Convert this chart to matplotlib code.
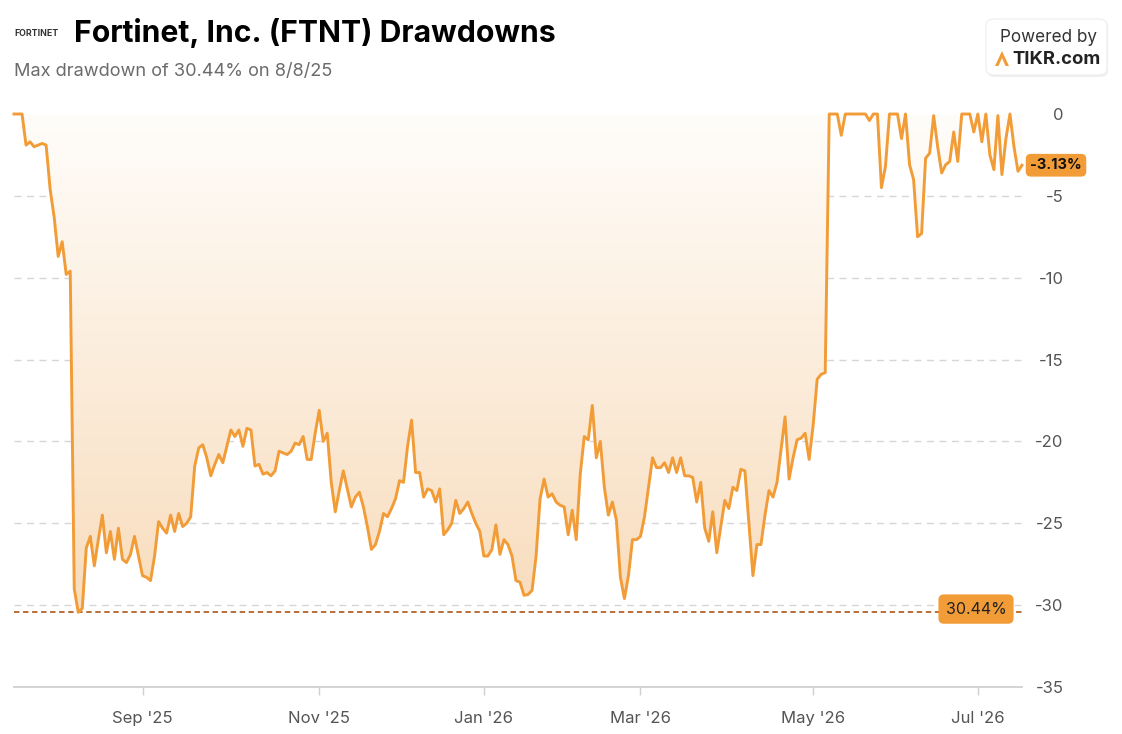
import matplotlib
matplotlib.use("Agg")
import matplotlib.pyplot as plt
import numpy as np
import pandas as pd
from matplotlib.patches import FancyBboxPatch, Polygon
from matplotlib.colors import LinearSegmentedColormap

plt.rcParams['font.family'] = ['Inter', 'DejaVu Sans']

# ---------------- data ----------------
title = "Fortinet, Inc. (FTNT) Drawdowns"
subtitle = "Max drawdown of 30.44% on 8/8/25"
max_dd = -30.44
last_dd = -3.13

market_holidays = ["2025-09-01", "2025-11-27", "2025-12-25", "2026-01-01", "2026-01-19",
                   "2026-02-16", "2026-04-03", "2026-05-25", "2026-06-19", "2026-07-03"]

dates = [
    "2025-07-17", "2025-07-21", "2025-07-22", "2025-07-23", "2025-07-24", "2025-07-25", "2025-07-28",
    "2025-07-29", "2025-07-30", "2025-07-31",
    "2025-08-01", "2025-08-04", "2025-08-05", "2025-08-06", "2025-08-07", "2025-08-08", "2025-08-11",
    "2025-08-12", "2025-08-13", "2025-08-14", "2025-08-15", "2025-08-18", "2025-08-19", "2025-08-20",
    "2025-08-21", "2025-08-22", "2025-08-25", "2025-08-26", "2025-08-27", "2025-08-28", "2025-08-29",
    "2025-09-02", "2025-09-03", "2025-09-04", "2025-09-05", "2025-09-08", "2025-09-09", "2025-09-10",
    "2025-09-11", "2025-09-12", "2025-09-15", "2025-09-16", "2025-09-17", "2025-09-18", "2025-09-19",
    "2025-09-22", "2025-09-23", "2025-09-24", "2025-09-25", "2025-09-26", "2025-09-29", "2025-09-30",
    "2025-10-01", "2025-10-02", "2025-10-03", "2025-10-06", "2025-10-07", "2025-10-08", "2025-10-09",
    "2025-10-10", "2025-10-13", "2025-10-14", "2025-10-15", "2025-10-16", "2025-10-17", "2025-10-20",
    "2025-10-21", "2025-10-22", "2025-10-23", "2025-10-24", "2025-10-27", "2025-10-28", "2025-10-29",
    "2025-10-30", "2025-10-31",
    "2025-11-03", "2025-11-04", "2025-11-05", "2025-11-06", "2025-11-07", "2025-11-10", "2025-11-11",
    "2025-11-12", "2025-11-13", "2025-11-14", "2025-11-17", "2025-11-18", "2025-11-19", "2025-11-20",
    "2025-11-21", "2025-11-24", "2025-11-25", "2025-11-26", "2025-11-28",
    "2025-12-01", "2025-12-02", "2025-12-03", "2025-12-04", "2025-12-05", "2025-12-08", "2025-12-09",
    "2025-12-10", "2025-12-11", "2025-12-12", "2025-12-15", "2025-12-16", "2025-12-17", "2025-12-18",
    "2025-12-19", "2025-12-22", "2025-12-23", "2025-12-24", "2025-12-26", "2025-12-29", "2025-12-30",
    "2025-12-31",
    "2026-01-02", "2026-01-05", "2026-01-06", "2026-01-07", "2026-01-08", "2026-01-09", "2026-01-12",
    "2026-01-13", "2026-01-14", "2026-01-15", "2026-01-16", "2026-01-20", "2026-01-21", "2026-01-22",
    "2026-01-23", "2026-01-26", "2026-01-27", "2026-01-28", "2026-01-29", "2026-01-30",
    "2026-02-02", "2026-02-03", "2026-02-04", "2026-02-05", "2026-02-06", "2026-02-09", "2026-02-10",
    "2026-02-11", "2026-02-12", "2026-02-13", "2026-02-17", "2026-02-18", "2026-02-19", "2026-02-20",
    "2026-02-23", "2026-02-24", "2026-02-25", "2026-02-26", "2026-02-27",
    "2026-03-02", "2026-03-03", "2026-03-04", "2026-03-05", "2026-03-06", "2026-03-09", "2026-03-10",
    "2026-03-11", "2026-03-12", "2026-03-13", "2026-03-16", "2026-03-17", "2026-03-18", "2026-03-19",
    "2026-03-20", "2026-03-23", "2026-03-24", "2026-03-25", "2026-03-26", "2026-03-27", "2026-03-30",
    "2026-03-31",
    "2026-04-01", "2026-04-02", "2026-04-06", "2026-04-07", "2026-04-08", "2026-04-09", "2026-04-10",
    "2026-04-13", "2026-04-14", "2026-04-15", "2026-04-16", "2026-04-17", "2026-04-20", "2026-04-21",
    "2026-04-22", "2026-04-23", "2026-04-24", "2026-04-27", "2026-04-28", "2026-04-29", "2026-04-30",
    "2026-05-01", "2026-05-04", "2026-05-05", "2026-05-06", "2026-05-07", "2026-05-08", "2026-05-11",
    "2026-05-12", "2026-05-13", "2026-05-14", "2026-05-15", "2026-05-18", "2026-05-19", "2026-05-20",
    "2026-05-21", "2026-05-22", "2026-05-26", "2026-05-27", "2026-05-28", "2026-05-29",
    "2026-06-01", "2026-06-02", "2026-06-03", "2026-06-04", "2026-06-05", "2026-06-08", "2026-06-09",
    "2026-06-10", "2026-06-11", "2026-06-12", "2026-06-15", "2026-06-16", "2026-06-17", "2026-06-18",
    "2026-06-22", "2026-06-23", "2026-06-24", "2026-06-25", "2026-06-26", "2026-06-29", "2026-06-30",
    "2026-07-01", "2026-07-02", "2026-07-06", "2026-07-07", "2026-07-08", "2026-07-09", "2026-07-10",
    "2026-07-13", "2026-07-14", "2026-07-15", "2026-07-16", "2026-07-17",
]

drawdown = [
    0.0, 0.0, -1.9, -1.7, -2.0, -1.9, -1.8, -1.9, -4.6, -6.3,
    -8.7, -7.8, -9.8, -9.6, -29.0, -30.44, -30.2, -26.5, -25.8, -27.6, -26.0, -24.5, -26.8, -25.5,
    -27.2, -25.3, -27.2, -27.4, -26.9, -25.8, -27.0,
    -28.2, -28.3, -28.5, -27.0, -24.9, -25.3, -25.6, -24.5, -25.5, -24.4, -25.2, -25.0, -24.6, -21.5,
    -20.4, -20.2, -21.0, -22.1, -21.4, -20.8, -21.3,
    -20.3, -19.3, -19.7, -19.3, -20.3, -19.2, -19.3, -21.5, -21.4, -22.0, -21.9, -22.1, -21.8, -20.6,
    -20.7, -20.8, -20.6, -20.1, -20.2, -19.7, -21.1, -21.1, -19.5,
    -18.1, -20.0, -19.5, -22.5, -24.3, -23.0, -21.8, -22.9, -24.0, -23.4, -23.1, -24.0, -25.2, -26.6,
    -26.3, -25.5, -24.4, -24.6, -24.1,
    -23.5, -22.4, -22.5, -20.3, -18.7, -21.9, -21.9, -23.4, -22.9, -23.0, -23.7, -22.9, -25.7, -25.4,
    -25.0, -23.6, -24.4, -24.1, -23.7, -24.4, -25.0, -25.5,
    -27.0, -27.0, -26.6, -25.1, -26.9, -26.0, -26.3, -27.0, -28.5, -28.6, -29.4, -29.35, -29.1, -27.0,
    -23.5, -22.3, -23.4, -23.2, -23.7, -23.9,
    -24.0, -25.7, -24.2, -26.0, -22.0, -19.7, -19.9, -17.8, -21.0, -20.0, -22.8, -24.5, -23.7, -24.8,
    -28.3, -29.6, -28.2, -26.0, -26.0,
    -25.8, -24.6, -22.8, -21.0, -21.6, -21.6, -21.3, -21.9, -21.0, -21.9, -21.0, -22.1, -22.1, -22.2,
    -23.7, -22.5, -25.3, -26.1, -24.3, -26.8, -25.2, -23.6,
    -24.1, -22.8, -23.0, -21.7, -21.8, -25.0, -28.2, -26.3, -26.3, -24.5, -23.0, -23.4, -22.5, -20.5,
    -18.5, -22.3, -21.0, -19.9, -19.8, -19.5, -21.1,
    -19.0, -16.2, -15.9, -15.8, 0.0, 0.0, 0.0, -1.3, 0.0, 0.0, 0.0, 0.0, 0.0, 0.0,
    -0.4, 0.0, 0.0, -4.5, -3.2, 0.0,
    0.0, 0.0, -1.5, 0.0, -3.1, -4.0, -7.5, -7.3, -2.7, -2.4, -0.1, -2.0, -3.6, -3.1,
    -2.9, -1.1, -2.9, 0.0, 0.0, 0.0, -1.1,
    0.0, -1.7, 0.0, -2.5, -3.4, -0.1, -3.7, -1.5, 0.0, -2.0, -3.5, last_dd,
]

tick_months = [(2025, 9), (2025, 11), (2026, 1), (2026, 3), (2026, 5), (2026, 7)]
y_ticks = [0, -5, -10, -15, -20, -25, -30, -35]

# ---------------- trading-day axis ----------------
bday = pd.offsets.CustomBusinessDay(holidays=pd.to_datetime(market_holidays))
cal = pd.date_range(dates[0], dates[-1], freq=bday)
dts = pd.to_datetime(dates)
x = cal.get_indexer(dts).astype(float)
y = np.array(drawdown)

tick_pos, tick_lab = [], []
for yr, mo in tick_months:
    idx = np.where((cal.year == yr) & (cal.month == mo))[0]
    if len(idx):
        tick_pos.append(idx[0])
        tick_lab.append(cal[idx[0]].strftime("%b '%y"))

# ---------------- figure ----------------
W, H = 1122, 734
fig = plt.figure(figsize=(W / 100, H / 100), dpi=100)
fig.patch.set_facecolor('white')

def fx(px):
    return px / W

def fy(py):
    return 1 - py / H

ax_l, ax_r, ax_t, ax_b = 14, 1022, 114, 687
ax = fig.add_axes([fx(ax_l), fy(ax_b), (ax_r - ax_l) / W, (ax_b - ax_t) / H])
ax.set_xlim(x[0], x[-1])
ax.set_ylim(-35, 0)
ax.set_facecolor('none')

# gradient fill between the line and 0
grad = np.linspace(0, 1, 256).reshape(-1, 1)
cmap = LinearSegmentedColormap.from_list('g', ['#fffdfa', '#f8dcbc'])
poly = ax.fill_between(x, y, 0, color='none', lw=0)
img = ax.imshow(grad, extent=[x[0], x[-1], -31, 0], origin='upper', aspect='auto',
                cmap=cmap, zorder=1)
clip_path = poly.get_paths()[0]
img.set_clip_path(clip_path, transform=ax.transData)

# grid
for v in y_ticks[:-1]:
    ax.axhline(v, color='#d6d6d6', lw=1.0, dashes=(5, 4), zorder=0.5)

# max drawdown line
ax.axhline(max_dd, color='#b4622a', lw=1.3, dashes=(3, 2), zorder=2)

# data line
ax.plot(x, y, color='#f29c38', lw=2.1, zorder=3, solid_joinstyle='round', clip_on=False)

# spines and ticks
for s in ['top', 'right', 'left']:
    ax.spines[s].set_visible(False)
ax.spines['bottom'].set_color('#d0d0d0')
ax.spines['bottom'].set_linewidth(1.3)

ax.set_xticks(tick_pos)
ax.set_xticklabels(tick_lab)
ax.tick_params(axis='x', length=6, color='#d0d0d0', width=1, pad=11,
               labelsize=12, labelcolor='#555555')

ax.yaxis.tick_right()
ax.set_yticks(y_ticks)
ax.set_yticklabels([str(v) for v in y_ticks])
ax.tick_params(axis='y', length=0, pad=30, labelsize=12, labelcolor='#555555')
for lab in ax.get_yticklabels():
    lab.set_horizontalalignment('right')

# last value badge
ax.text(1.0 + 34 / (ax_r - ax_l), last_dd, f"{last_dd:.2f}%", transform=ax.get_yaxis_transform(),
        ha='center', va='center', fontsize=10.5, fontweight='bold', color='#111111', zorder=5,
        bbox=dict(boxstyle='round,pad=0.3,rounding_size=0.35', fc='#f29c38', ec='none'))

# max drawdown badge
ax.text(x[0] + (x[-1] - x[0]) * ((976 - ax_l) / (ax_r - ax_l)), max_dd + 0.2, f"{abs(max_dd):.2f}%",
        ha='center', va='center', fontsize=11.5, color='#222222', zorder=5,
        bbox=dict(boxstyle='round,pad=0.45,rounding_size=0.35', fc='#f29c38', ec='none'))

# title and subtitle
fig.text(fx(74), fy(33), title, fontsize=21.7, fontweight='bold', color='#000000',
         ha='left', va='center')
fig.text(fx(14), fy(72), subtitle, fontsize=13.1, color='#6b6b6b', ha='left', va='center')
fig.text(fx(14), fy(33), "FORTINET", fontsize=6.3, fontweight='bold', color='#333333',
         ha='left', va='center')

# powered by box
shadow = FancyBboxPatch((fx(987), fy(77)), fx(1108) - fx(987), fy(20) - fy(77),
                        boxstyle='round,pad=0,rounding_size=0.008', transform=fig.transFigure,
                        fc='#efefef', ec='none', zorder=0)
box = FancyBboxPatch((fx(986), fy(75)), fx(1107) - fx(986), fy(19) - fy(75),
                     boxstyle='round,pad=0,rounding_size=0.008', transform=fig.transFigure,
                     fc='white', ec='#eeeeee', lw=0.8, zorder=1)
fig.patches.extend([shadow, box])
fig.text(fx(1048), fy(38), "Powered by", fontsize=12.3, color='#333333', ha='center', va='center',
         zorder=2)
fig.text(fx(1012), fy(59), "TIKR.com", fontsize=13.3, fontweight='bold', color='#222222',
         ha='left', va='center', zorder=2)
logo = Polygon([(fx(995), fy(66)), (fx(1002), fy(51)), (fx(1009), fy(66)),
                (fx(1005.5), fy(66)), (fx(1002), fy(58)), (fx(998.5), fy(66))],
               closed=True, transform=fig.transFigure, fc='#f29c38', ec='none', zorder=2)
fig.patches.append(logo)

fig.savefig('out.png', dpi=100, facecolor='white')
